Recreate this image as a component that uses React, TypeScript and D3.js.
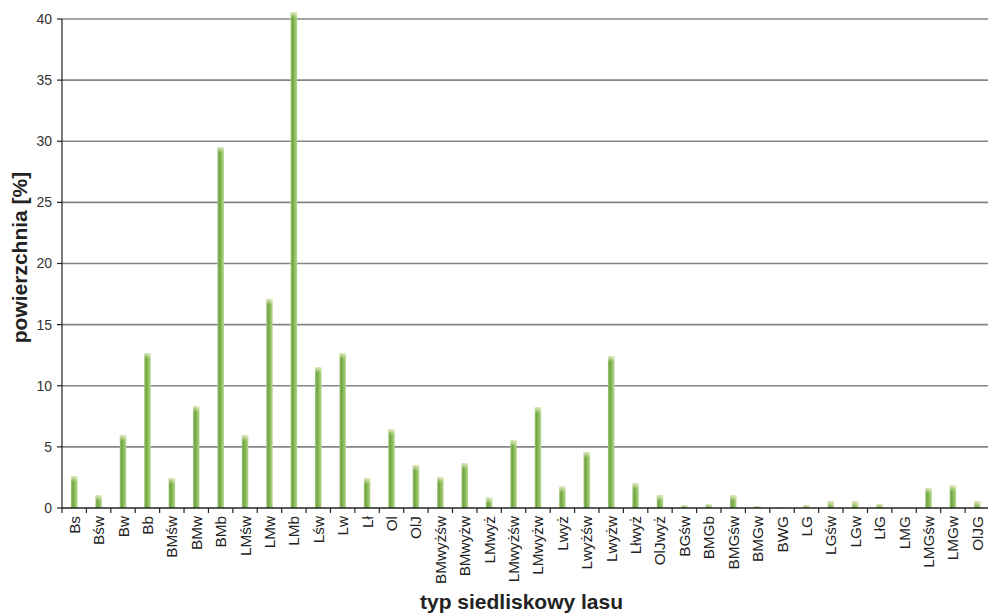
import React from "react";
import * as d3 from "d3";

// Forest site types (typ siedliskowy lasu)
const categories: string[] = [
  "Bs", "Bśw", "Bw", "Bb", "BMśw", "BMw", "BMb", "LMśw", "LMw", "LMb",
  "Lśw", "Lw", "Lł", "Ol", "OlJ", "BMwyżśw", "BMwyżw", "LMwyż", "LMwyżśw", "LMwyżw",
  "Lwyż", "Lwyżśw", "Lwyżw", "Lłwyż", "OlJwyż", "BGśw", "BMGb", "BMGśw", "BMGw", "BWG",
  "LG", "LGśw", "LGw", "LłG", "LMG", "LMGśw", "LMGw", "OlJG",
];

// Share of area [%]
const values: number[] = [
  2.6, 1.04, 5.95, 12.68, 2.45, 8.34, 29.53, 5.95, 17.1, 40.57,
  11.53, 12.68, 2.43, 6.43, 3.52, 2.54, 3.65, 0.85, 5.53, 8.23,
  1.75, 4.58, 12.43, 2.02, 1.04, 0.22, 0.33, 1.04, 0.14, 0.05,
  0.22, 0.55, 0.55, 0.33, 0, 1.64, 1.83, 0.55,
];

const yTicks: number[] = [0, 5, 10, 15, 20, 25, 30, 35, 40];

const W = 988;
const H = 614;
const M = { left: 62, right: 0, top: 19, bottom: 106 };

export default function App() {
  const x = d3
    .scaleBand<string>()
    .domain(categories)
    .range([M.left, W - M.right + 1.5])
    .paddingInner(0)
    .paddingOuter(0);
  const y = d3.scaleLinear().domain([0, 40]).range([H - M.bottom, M.top]);
  const barW = 6.5;
  const font = "'Liberation Sans', Arial, sans-serif";
  const y0 = y(0);

  return (
    <svg
      width={W}
      height={H}
      style={{ position: "absolute", left: 0, top: 0, background: "#fff" }}
      fontFamily={font}
    >
      <defs>
        <linearGradient id="barGrad" x1="0" x2="1" y1="0" y2="0">
          <stop offset="0%" stopColor="#a3cb7a" />
          <stop offset="30%" stopColor="#70a243" />
          <stop offset="60%" stopColor="#8bbd5a" />
          <stop offset="100%" stopColor="#b6d690" />
        </linearGradient>
        <linearGradient id="capGrad" x1="0" x2="0" y1="0" y2="1">
          <stop offset="0%" stopColor="#f2f6d8" stopOpacity={0.85} />
          <stop offset="100%" stopColor="#e8eec0" stopOpacity={0} />
        </linearGradient>
      </defs>

      {/* horizontal gridlines */}
      {yTicks.slice(1).map((t) => (
        <line
          key={"g" + t}
          x1={M.left}
          x2={W}
          y1={y(t)}
          y2={y(t)}
          stroke="#858585"
          strokeWidth={1.6}
        />
      ))}

      {/* bars */}
      {categories.map((c, i) => {
        const v = values[i];
        if (v <= 0) return null;
        const cx = (x(c) as number) + x.bandwidth() / 2;
        const top = y(v);
        const h = y0 - top;
        const capH = Math.min(6, h);
        return (
          <g key={c}>
            <rect x={cx - barW / 2} y={top} width={barW} height={h} fill="url(#barGrad)" />
            <rect
              x={cx - barW / 2}
              y={top}
              width={barW}
              height={capH}
              fill="url(#capGrad)"
            />
          </g>
        );
      })}

      {/* y axis */}
      <line x1={M.left} x2={M.left} y1={M.top} y2={y0} stroke="#222" strokeWidth={1.2} />
      {yTicks.map((t) => (
        <g key={"t" + t}>
          <line x1={M.left - 5} x2={M.left} y1={y(t)} y2={y(t)} stroke="#222" strokeWidth={1.2} />
          <text
            x={M.left - 10}
            y={y(t)}
            dy="0.35em"
            textAnchor="end"
            fontSize={14}
            fill="#333"
          >
            {t}
          </text>
        </g>
      ))}

      {/* x axis */}
      <line x1={M.left} x2={W} y1={y0} y2={y0} stroke="#222" strokeWidth={1.4} />
      {categories.map((c) => (
        <line
          key={"xt" + c}
          x1={x(c) as number}
          x2={x(c) as number}
          y1={y0}
          y2={y0 + 5}
          stroke="#222"
          strokeWidth={1.2}
        />
      ))}
      {categories.map((c) => {
        const cx = (x(c) as number) + x.bandwidth() / 2;
        return (
          <text
            key={"xl" + c}
            transform={`translate(${cx + 5.5},${y0 + 8}) rotate(-90)`}
            textAnchor="end"
            fontSize={15.3}
            fill="#222"
          >
            {c}
          </text>
        );
      })}

      {/* axis titles */}
      <text
        transform={`translate(27,${257.5}) rotate(-90)`}
        textAnchor="middle"
        fontSize={21}
        fontWeight="bold"
        fill="#222"
      >
        powierzchnia [%]
      </text>
      <text x={521.5} y={609} textAnchor="middle" fontSize={21} fontWeight="bold" fill="#222">
        typ siedliskowy lasu
      </text>
    </svg>
  );
}
